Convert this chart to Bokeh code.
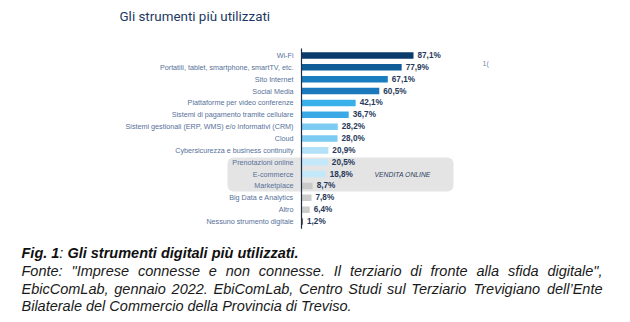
from bokeh.plotting import figure
from bokeh.models import Range1d
from bokeh.core.properties import value
from bokeh.embed import file_html
from bokeh.resources import INLINE

# ---------------- data ----------------
categories = [
    "Wi-Fi",
    "Portatili, tablet, smartphone, smartTV, etc.",
    "Sito Internet",
    "Social Media",
    "Piattaforme per video conferenze",
    "Sistemi di pagamento tramite cellulare",
    "Sistemi gestionali (ERP, WMS) e/o informativi (CRM)",
    "Cloud",
    "Cybersicurezza e business continuity",
    "Prenotazioni online",
    "E-commerce",
    "Marketplace",
    "Big Data e Analytics",
    "Altro",
    "Nessuno strumento digitale",
]
values = [87.1, 77.9, 67.1, 60.5, 42.1, 36.7, 28.2, 28.0, 20.9, 20.5, 18.8, 8.7, 7.8, 6.4, 1.2]
bar_colors = ["#0a3b6b", "#0e5d96", "#1a7dc0", "#1b78bd", "#38b0ea", "#3aa9e6",
              "#7ccbf3", "#7ccbf3", "#b3e1f7", "#c2e8fa", "#c2e8fa",
              "#c9c9c9", "#cccccc", "#cccccc", "#6b6b6b"]
value_labels = [("%.1f" % v).replace(".", ",") + "%" for v in values]

chart_title = "Gli strumenti più utilizzati"
group_label = "VENDITA ONLINE"
caption_bold_a = "Fig. 1"
caption_colon = ":"
caption_bold_b = "Gli strumenti digitali più utilizzati."
source_lines = [
    'Fonte: "Imprese connesse e non connesse. Il terziario di fronte alla sfida digitale",',
    "EbicComLab, gennaio 2022. EbiComLab, Centro Studi sul Terziario Trevigiano dell\u2019Ente",
    "Bilaterale del Commercio della Provincia di Treviso.",
]

# ---------------- text metrics (Arial / Liberation Sans, per 1000 em) ----------------
REG = {" ": 278, '"': 355, "'": 191, "(": 333, ")": 333, ",": 278, "-": 333, ".": 278,
       ":": 278, "%": 889, "/": 278, "\u2019": 222,
       "A": 667, "B": 667, "C": 722, "D": 722, "E": 667, "F": 611, "G": 778, "H": 722,
       "I": 278, "J": 500, "K": 667, "L": 556, "M": 833, "N": 722, "O": 778, "P": 667,
       "Q": 778, "R": 722, "S": 667, "T": 611, "U": 722, "V": 667, "W": 944, "X": 667,
       "Y": 667, "Z": 611,
       "a": 556, "b": 556, "c": 500, "d": 556, "e": 556, "f": 278, "g": 556, "h": 556,
       "i": 222, "j": 222, "k": 500, "l": 222, "m": 833, "n": 556, "o": 556, "p": 556,
       "q": 556, "r": 333, "s": 500, "t": 278, "u": 556, "v": 500, "w": 722, "x": 500,
       "y": 500, "z": 500, "\u00f9": 556}
for d in "0123456789":
    REG[d] = 556
BOLD = dict(REG)
BOLD.update({":": 333, "b": 611, "c": 556, "d": 611, "f": 333, "g": 611, "h": 611,
             "i": 278, "j": 278, "k": 556, "l": 278, "m": 889, "n": 611, "o": 611,
             "p": 611, "q": 611, "r": 389, "s": 556, "t": 333, "u": 611, "v": 556,
             "w": 778, "x": 556, "y": 556, "\u00f9": 611})


def text_width(s, size, table):
    return sum(table.get(c, 556) for c in s) * size / 1000.0


# ---------------- figure ----------------
W, H = 630, 322
p = figure(width=W, height=H, output_backend="svg", toolbar_location=None,
           x_range=Range1d(0, W), y_range=Range1d(H, 0),
           x_axis_type=None, y_axis_type=None, min_border=0)
p.grid.visible = False
p.outline_line_color = None
p.background_fill_color = "white"
p.border_fill_color = "white"

# scales for the bar chart (pixel placement of 0% and row spacing)
x0_px, x_scale = 301.0, (413.0 - 301.0) / 87.1
row0_px, row_step = 55.0, 11.86
p.extra_x_ranges = {"pct": Range1d(-x0_px / x_scale, (W - x0_px) / x_scale)}
p.extra_y_ranges = {"row": Range1d((H - row0_px) / row_step, -row0_px / row_step)}

rows = list(range(len(categories)))

# grey rounded box behind the "online sales" group
p.quad(left=227, right=453, top=157, bottom=191, fill_color="#e4e4e4",
       line_color=None, border_radius=6)

# title
p.text(x=[119], y=[16], text=[chart_title], text_font=value("Roboto"),
       text_font_size="13.4px", text_color="#1c3a62", text_baseline="middle",
       text_align="left")

# bars
p.hbar(y=rows, left=0, right=values, height=0.55, fill_color=bar_colors,
       line_color=None, x_range_name="pct", y_range_name="row")

# axis line
p.segment(x0=[0], x1=[0], y0=[-0.6], y1=[14.6], line_color="#1e2e48", line_width=1.2,
          x_range_name="pct", y_range_name="row")

# category labels
p.text(x=[0] * len(rows), y=rows, text=categories, x_offset=-8,
       text_font=value("Liberation Sans"), text_font_size="7.2px",
       text_color="#56709a", text_align="right", text_baseline="middle",
       x_range_name="pct", y_range_name="row")

# value labels
p.text(x=values, y=rows, text=value_labels, x_offset=4,
       text_font=value("Liberation Sans"), text_font_size="8.2px", text_font_style="bold",
       text_color="#27395a", text_align="left", text_baseline="middle",
       x_range_name="pct", y_range_name="row")

# group label
p.text(x=[374], y=[174], text=[group_label], text_font=value("Liberation Sans"),
       text_font_size="6.8px", text_font_style="italic", text_color="#2b3f60",
       text_align="left", text_baseline="middle")

# cropped fragment at the right
p.text(x=[482], y=[63], text=["1("], text_font=value("Liberation Sans"),
       text_font_size="7px", text_color="#7a8ca5", text_align="left",
       text_baseline="middle")

# ---------------- caption ----------------
FS = 14.5
cx = 21.0
cap_y = 252
p.text(x=[cx], y=[cap_y], text=[caption_bold_a], text_font=value("Liberation Sans"),
       text_font_size="%.1fpx" % FS, text_font_style="bold italic", text_color="#111111",
       text_baseline="middle", text_align="left")
xa = cx + text_width(caption_bold_a, FS, BOLD)
p.text(x=[xa], y=[cap_y], text=[caption_colon], text_font=value("Liberation Sans"),
       text_font_size="%.1fpx" % FS, text_font_style="italic", text_color="#111111",
       text_baseline="middle", text_align="left")
xb = xa + text_width(caption_colon + " ", FS, REG)
p.text(x=[xb], y=[cap_y], text=[caption_bold_b], text_font=value("Liberation Sans"),
       text_font_size="%.1fpx" % FS, text_font_style="bold italic", text_color="#111111",
       text_baseline="middle", text_align="left")

line_ys = [270, 288, 305]
right_edge = 602.0
wx, wy, wt = [], [], []
for i, (line, ly) in enumerate(zip(source_lines, line_ys)):
    words = line.split(" ")
    widths = [text_width(w, FS, REG) for w in words]
    if i < len(source_lines) - 1 and len(words) > 1:
        gap = (right_edge - cx - sum(widths)) / (len(words) - 1)
    else:
        gap = text_width(" ", FS, REG)
    x = cx
    for w, ww in zip(words, widths):
        wx.append(x)
        wy.append(ly)
        wt.append(w)
        x += ww + gap
p.text(x=wx, y=wy, text=wt, text_font=value("Liberation Sans"),
       text_font_size="%.1fpx" % FS, text_font_style="italic", text_color="#1a1a1a",
       text_baseline="middle", text_align="left")

open("out.html", "w").write(file_html(p, INLINE))
